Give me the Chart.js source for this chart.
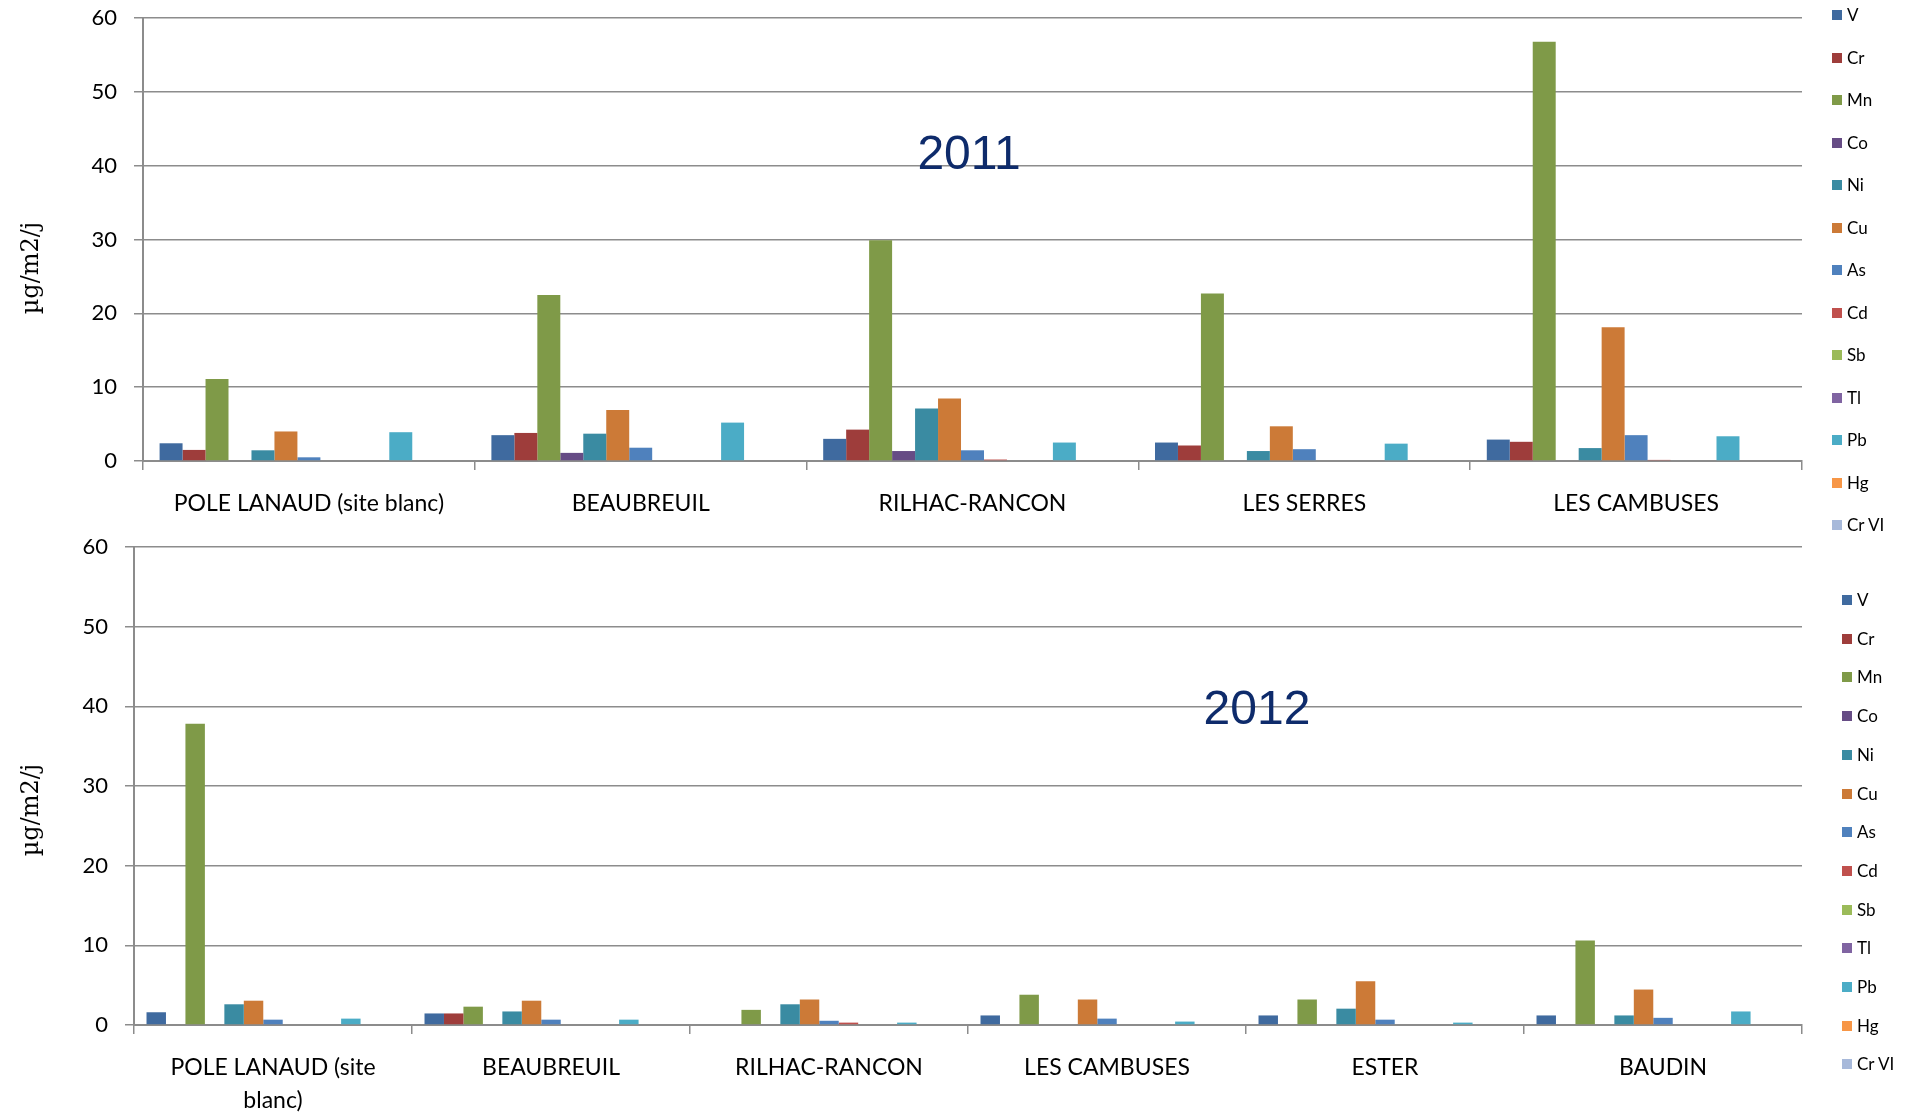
<!DOCTYPE html>
<html>
<head>
<meta charset="utf-8">
<script src="https://cdn.jsdelivr.net/npm/chart.js@4.4.1/dist/chart.umd.min.js"></script>
<style>
  html, body { margin: 0; padding: 0; background: #fff; overflow: hidden; }
  body { width: 1910px; height: 1112px; position: relative; }
  canvas { position: absolute; left: 0; }
  #c2011 { top: 0; }
  #c2012 { top: 520px; }
  .legend { position: absolute; font: 17px Lato, sans-serif; color: #000; }
  .legend .item { position: absolute; left: 0; height: 20px; line-height: 20px; display: flex; align-items: center; white-space: nowrap; }
  .legend .sw { display: inline-block; width: 10px; height: 10px; margin-right: 5px; }
  #leg2011 { left: 1832px; top: 0; }
  #leg2012 { left: 1842px; top: 0; }
</style>
</head>
<body>
<canvas id="c2011" width="1910" height="540"></canvas>
<canvas id="c2012" width="1910" height="592"></canvas>
<div class="legend" id="leg2011"></div>
<div class="legend" id="leg2012"></div>
<script>
// Metals (series) and their colours
const metals = ['V', 'Cr', 'Mn', 'Co', 'Ni', 'Cu', 'As', 'Cd', 'Sb', 'Tl', 'Pb', 'Hg', 'Cr VI'];
const colors = ['#3F6A9F', '#9E3D3B', '#7F9A48', '#664C85', '#3A8BA2', '#CC7A37',
                '#4F81BD', '#C0504D', '#9BBB59', '#8064A2', '#4BACC6', '#F79646', '#A7B9DA'];

// 2011 sites, one value per metal (µg/m2/j)
const sites2011 = ['POLE LANAUD (site blanc)', 'BEAUBREUIL', 'RILHAC-RANCON', 'LES SERRES', 'LES CAMBUSES'];
const pole2011     = [2.4, 1.5, 11.1, 0,    1.45, 4.0,  0.5,  0,    0, 0, 3.9,  0, 0];
const beau2011     = [3.5, 3.8, 22.5, 1.1,  3.7,  6.9,  1.8,  0,    0, 0, 5.2,  0, 0];
const rilhac2011   = [3.0, 4.25, 29.9, 1.35, 7.1, 8.45, 1.45, 0.2,  0, 0, 2.5,  0, 0];
const serres2011   = [2.5, 2.1, 22.7, 0,    1.35, 4.7,  1.6,  0,    0, 0, 2.35, 0, 0];
const cambuses2011 = [2.9, 2.6, 56.8, 0,    1.75, 18.1, 3.5,  0.15, 0, 0, 3.35, 0, 0];

// 2012 sites
const sites2012 = [['POLE LANAUD (site', 'blanc)'], 'BEAUBREUIL', 'RILHAC-RANCON', 'LES CAMBUSES', 'ESTER', 'BAUDIN'];
const pole2012     = [1.6,  0,    37.8, 0, 2.6,  3.05, 0.67, 0,   0, 0, 0.8,  0, 0];
const beau2012     = [1.45, 1.45, 2.3,  0, 1.7,  3.05, 0.67, 0,   0, 0, 0.67, 0, 0];
const rilhac2012   = [0,    0,    1.9,  0, 2.6,  3.2,  0.53, 0.3, 0, 0, 0.3,  0, 0];
const cambuses2012 = [1.2,  0,    3.8,  0, 0,    3.2,  0.8,  0,   0, 0, 0.43, 0, 0];
const ester2012    = [1.2,  0,    3.2,  0, 2.05, 5.5,  0.67, 0,   0, 0, 0.3,  0, 0];
const baudin2012   = [1.2,  0,    10.6, 0, 1.2,  4.45, 0.9,  0,   0, 0, 1.7,  0, 0];

const yMax = 60;
const yStep = 10;
const unitLabel = 'µg/m2/j';

Chart.defaults.font.family = 'Lato, sans-serif';
Chart.defaults.color = '#000';

const gridGray = '#8c8c8c';

// year caption and rotated unit label
const captions = {
  id: 'captions',
  afterDraw(chart, args, opts) {
    const ctx = chart.ctx;
    ctx.save();
    ctx.fillStyle = '#0E2B6B';
    ctx.font = '48px "Liberation Sans", Arial, sans-serif';
    ctx.textAlign = 'center';
    ctx.textBaseline = 'middle';
    ctx.fillText(opts.year, opts.yearX, opts.yearY);
    ctx.fillStyle = '#000';
    ctx.font = '24px "DejaVu Serif", serif';
    ctx.translate(opts.unitX, opts.unitY);
    ctx.rotate(-Math.PI / 2);
    ctx.fillText(unitLabel, 0, 0);
    ctx.restore();
  }
};

function makeDatasets(rows) {
  return metals.map((m, i) => ({
    label: m,
    data: rows.map(r => r[i]),
    backgroundColor: colors[i],
    borderWidth: 0
  }));
}

function makeChart(id, sites, rows, box) {
  return new Chart(document.getElementById(id), {
    type: 'bar',
    data: { labels: sites, datasets: makeDatasets(rows) },
    options: {
      responsive: false,
      animation: false,
      layout: { padding: { top: box.top, right: box.right, left: 0, bottom: 0 } },
      datasets: { bar: { categoryPercentage: box.catPct, barPercentage: 1 } },
      plugins: {
        legend: { display: false },
        tooltip: { enabled: false },
        captions: box.captions
      },
      scales: {
        x: {
          grid: { drawOnChartArea: false, drawTicks: true, tickLength: 9, offset: true, color: gridGray, lineWidth: 1.5 },
          border: { color: gridGray, width: 2 },
          ticks: { font: { size: 23, lineHeight: 1.43 }, padding: 17, maxRotation: 0, minRotation: 0, autoSkip: false },
          afterFit(scale) { scale.height = box.xHeight; }
        },
        y: {
          min: 0,
          max: yMax,
          ticks: { stepSize: yStep, font: { size: 22 }, padding: 17 },
          grid: { color: gridGray, lineWidth: 1.5, tickLength: 9 },
          border: { color: gridGray, width: 2 },
          afterFit(scale) {
            scale.width = box.yWidth;
            // keep the plot top where the layout padding puts it
            scale.paddingTop = 0;
            scale.paddingBottom = 0;
          }
        }
      }
    },
    plugins: [captions]
  });
}

const chart2011 = makeChart('c2011', sites2011,
  [pole2011, beau2011, rilhac2011, serres2011, cambuses2011],
  { top: 18, right: 108, yWidth: 143, xHeight: 79, catPct: 0.9,
    captions: { year: '2011', yearX: 969, yearY: 156, unitX: 32, unitY: 268 } });

const chart2012 = makeChart('c2012', sites2012,
  [pole2012, beau2012, rilhac2012, cambuses2012, ester2012, baudin2012],
  { top: 27, right: 108, yWidth: 134, xHeight: 87, catPct: 0.91,
    captions: { year: '2012', yearX: 1257, yearY: 191, unitX: 32, unitY: 290 } });

// HTML legends built from the chart datasets
function buildLegend(el, chart, firstCenter, step) {
  chart.data.datasets.forEach((ds, i) => {
    const item = document.createElement('div');
    item.className = 'item';
    item.style.top = (firstCenter + i * step - 10) + 'px';
    const sw = document.createElement('span');
    sw.className = 'sw';
    sw.style.background = ds.backgroundColor;
    item.appendChild(sw);
    item.appendChild(document.createTextNode(ds.label));
    el.appendChild(item);
  });
}
buildLegend(document.getElementById('leg2011'), chart2011, 15, 42.5);
buildLegend(document.getElementById('leg2012'), chart2012, 600, 38.7);
</script>
</body>
</html>
